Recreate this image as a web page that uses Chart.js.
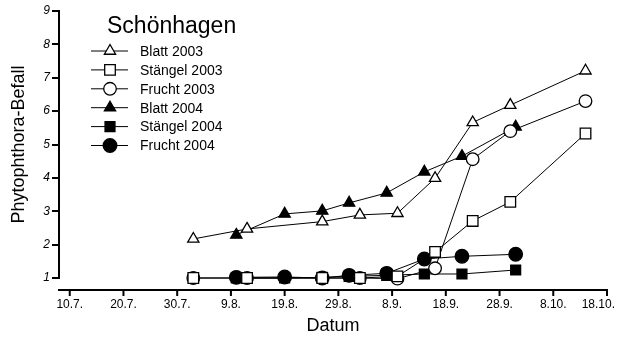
<!DOCTYPE html>
<html>
<head>
<meta charset="utf-8">
<script src="https://cdn.jsdelivr.net/npm/chart.js"></script>
<style>
  body { margin: 0; background: #fff; }
  #wrap { width: 617px; height: 337px; }
</style>
</head>
<body>
<div id="wrap"><canvas id="befallChart" width="617" height="337"></canvas></div>
<script>
// days counted from 10.7.
const xTickDays = [0, 10, 20, 30, 40, 50, 60, 70, 80, 90, 100];
const xTickLabels = ['10.7.', '20.7.', '30.7.', '9.8.', '19.8.', '29.8.', '8.9.', '18.9.', '28.9.', '8.10.', '18.10.'];
const yTicks = [1, 2, 3, 4, 5, 6, 7, 8, 9];

const days2003 = [23, 33, 47, 54, 61, 68, 75, 82, 96];
const days2004 = [31, 40, 47, 52, 59, 66, 73, 83];

const blatt2003 = [2.17, 2.47, 2.69, 2.89, 2.94, 3.99, 5.66, 6.18, 7.21];
const staengel2003 = [1.0, 1.0, 1.0, 1.0, 1.05, 1.78, 2.71, 3.28, 5.33];
const frucht2003 = [1.0, 1.0, 1.0, 1.0, 0.98, 1.29, 4.56, 5.40, 6.30];
const blatt2004 = [2.29, 2.92, 3.01, 3.25, 3.55, 4.18, 4.65, 5.53];
const staengel2004 = [1.0, 1.0, 1.02, 1.05, 1.08, 1.12, 1.12, 1.24];
const frucht2004 = [1.02, 1.03, 1.0, 1.08, 1.14, 1.57, 1.65, 1.71];

const legendTitle = 'Schönhagen';
const FONT = '"Liberation Sans", Arial, sans-serif';

function toPoints(days, values) {
    return days.map((d, i) => ({ x: d, y: values[i] }));
}

function series(label, days, values, style, radius, filled) {
    return {
        label: label,
        data: toPoints(days, values),
        borderColor: '#000',
        borderWidth: 1,
        pointStyle: style,
        pointRadius: radius,
        pointHoverRadius: radius,
        pointBorderColor: '#000',
        pointBorderWidth: 1.3,
        pointBackgroundColor: filled ? '#000' : '#fff',
        tension: 0,
        clip: false,
    };
}

function drawMarker(ctx, style, x, y, r, fill) {
    ctx.beginPath();
    if (style === 'triangle') {
        let rad = 0;
        ctx.moveTo(x + Math.sin(rad) * r, y - Math.cos(rad) * r);
        rad += 2 * Math.PI / 3;
        ctx.lineTo(x + Math.sin(rad) * r, y - Math.cos(rad) * r);
        rad += 2 * Math.PI / 3;
        ctx.lineTo(x + Math.sin(rad) * r, y - Math.cos(rad) * r);
        ctx.closePath();
    } else if (style === 'rect') {
        const s = Math.SQRT1_2 * r;
        ctx.rect(x - s, y - s, 2 * s, 2 * s);
    } else {
        ctx.arc(x, y, r, 0, Math.PI * 2);
    }
    ctx.fillStyle = fill;
    ctx.fill();
    ctx.lineWidth = 1.3;
    ctx.strokeStyle = '#000';
    ctx.stroke();
}

const boxLegend = {
    id: 'boxLegend',
    afterDraw(chart) {
        const ctx = chart.ctx;
        ctx.save();
        ctx.fillStyle = '#000';
        ctx.textAlign = 'left';
        ctx.textBaseline = 'middle';
        ctx.font = '23px ' + FONT;
        ctx.fillText(legendTitle, 107, 27);
        chart.data.datasets.forEach((ds, i) => {
            const y = 51 + i * 18.9;
            ctx.strokeStyle = '#000';
            ctx.lineWidth = 1;
            ctx.beginPath();
            ctx.moveTo(91, y);
            ctx.lineTo(128, y);
            ctx.stroke();
            drawMarker(ctx, ds.pointStyle, 110, y, ds.pointRadius, ds.pointBackgroundColor);
            ctx.fillStyle = '#000';
            ctx.font = '14px ' + FONT;
            ctx.fillText(ds.label, 140, y + 1);
        });
        ctx.restore();
    },
};

// x axis sits a bit below the y axis, Prism style; last label is kept inside the canvas
const offsetXAxis = {
    id: 'offsetXAxis',
    afterDraw(chart) {
        const xs = chart.scales.x;
        const ctx = chart.ctx;
        const y = chart.chartArea.bottom + 12;
        ctx.save();
        ctx.strokeStyle = '#000';
        ctx.lineWidth = 2;
        ctx.beginPath();
        ctx.moveTo(xs.left - 1, y);
        ctx.lineTo(xs.right + 1, y);
        xs.ticks.forEach((t) => {
            const px = xs.getPixelForValue(t.value);
            ctx.moveTo(px, y);
            ctx.lineTo(px, y + 6);
        });
        ctx.stroke();

        ctx.fillStyle = '#000';
        ctx.font = '12px ' + FONT;
        ctx.textAlign = 'left';
        ctx.textBaseline = 'top';
        xs.ticks.forEach((t) => {
            const label = xTickLabels[xTickDays.indexOf(t.value)];
            const w = ctx.measureText(label).width;
            const px = xs.getPixelForValue(t.value);
            const left = Math.min(px - w / 2, chart.width - w - 2);
            ctx.fillText(label, left, y + 9);
        });
        ctx.restore();
    },
};

Chart.defaults.color = '#000';
Chart.defaults.font.family = FONT;

const ctx = document.getElementById('befallChart').getContext('2d');
new Chart(ctx, {
    type: 'line',
    data: {
        datasets: [
            series('Blatt 2003', days2003, blatt2003, 'triangle', 6.5, false),
            series('Stängel 2003', days2003, staengel2003, 'rect', 7.5, false),
            series('Frucht 2003', days2003, frucht2003, 'circle', 6.3, false),
            series('Blatt 2004', days2004, blatt2004, 'triangle', 6.5, true),
            series('Stängel 2004', days2004, staengel2004, 'rect', 7, true),
            series('Frucht 2004', days2004, frucht2004, 'circle', 6.8, true),
        ],
    },
    options: {
        responsive: false,
        animation: false,
        devicePixelRatio: 1,
        layout: { padding: { top: 11, right: 10, left: 0, bottom: 0 } },
        plugins: {
            legend: { display: false },
            tooltip: { enabled: false },
        },
        scales: {
            x: {
                type: 'linear',
                min: -2,
                max: 100,
                afterBuildTicks: (scale) => {
                    scale.ticks = xTickDays.map((v) => ({ value: v }));
                },
                afterFit: (scale) => {
                    scale.height = 59;
                    scale.paddingLeft = 0;
                    scale.paddingRight = 0;
                },
                border: { display: false },
                grid: { display: false, drawTicks: false },
                ticks: { display: false },
                title: {
                    display: true,
                    text: 'Datum',
                    font: { size: 18 },
                    padding: { top: 0, bottom: 0 },
                },
            },
            y: {
                min: 1,
                max: 9,
                afterBuildTicks: (scale) => {
                    scale.ticks = yTicks.map((v) => ({ value: v }));
                },
                afterFit: (scale) => { scale.width = 59; },
                border: { display: true, color: '#000', width: 2 },
                grid: {
                    drawOnChartArea: false,
                    drawTicks: true,
                    tickLength: 7,
                    color: '#000',
                    lineWidth: 2,
                },
                ticks: {
                    padding: 2,
                    font: { size: 12, style: 'italic' },
                },
                title: {
                    display: true,
                    text: 'Phytophthora-Befall',
                    font: { size: 18 },
                    padding: { top: 8, bottom: 0 },
                },
            },
        },
    },
    plugins: [boxLegend, offsetXAxis],
});
</script>
</body>
</html>
